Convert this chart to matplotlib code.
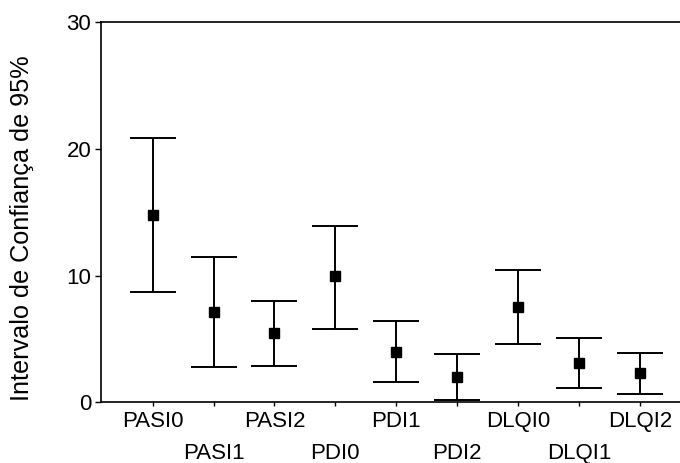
import numpy as np
import matplotlib
matplotlib.use("Agg")
import matplotlib.pyplot as plt

plt.rcParams['font.family'] = ['Liberation Sans', 'DejaVu Sans']

# categories and 95% CI values
categories = ['PASI0', 'PASI1', 'PASI2', 'PDI0', 'PDI1', 'PDI2', 'DLQI0', 'DLQI1', 'DLQI2']
means = [14.78, 7.15, 5.44, 9.95, 3.99, 1.97, 7.55, 3.10, 2.29]
upper = [20.84, 11.47, 8.02, 13.94, 6.42, 3.79, 10.47, 5.10, 3.92]
lower = [8.73, 2.79, 2.89, 5.81, 1.58, 0.21, 4.63, 1.15, 0.68]

x = np.arange(1, len(categories) + 1)
means = np.array(means)
err = [means - np.array(lower), np.array(upper) - means]

fig = plt.figure(figsize=(6.8, 4.63), dpi=100)
ax = fig.add_axes([0.1485, 0.1311, 0.8515, 0.8207])

ax.errorbar(x, means, yerr=err, fmt='s', color='black', markersize=6.5,
            elinewidth=1.4, capsize=16.5, capthick=1.4, ecolor='black')

ax.set_ylim(0, 30)
ax.set_xlim(0.151, 9.66)
ax.set_yticks([0, 10, 20, 30])
ax.set_xticks(x)
ax.set_xticklabels(categories, fontsize=16)
ax.tick_params(axis='y', labelsize=16, length=4, width=1, pad=3)
ax.tick_params(axis='x', length=3, width=1, pad=3)
for i, t in enumerate(ax.xaxis.get_major_ticks()):
    if i % 2 == 1:
        t.set_pad(26)

ax.spines['right'].set_visible(False)
for s in ['left', 'bottom', 'top']:
    ax.spines[s].set_linewidth(1.2)

ax.set_ylabel('Intervalo de Confiança de 95%', fontsize=18.2)
ax.yaxis.set_label_coords(-0.115, 0.457)

fig.savefig('out.png', dpi=100)
